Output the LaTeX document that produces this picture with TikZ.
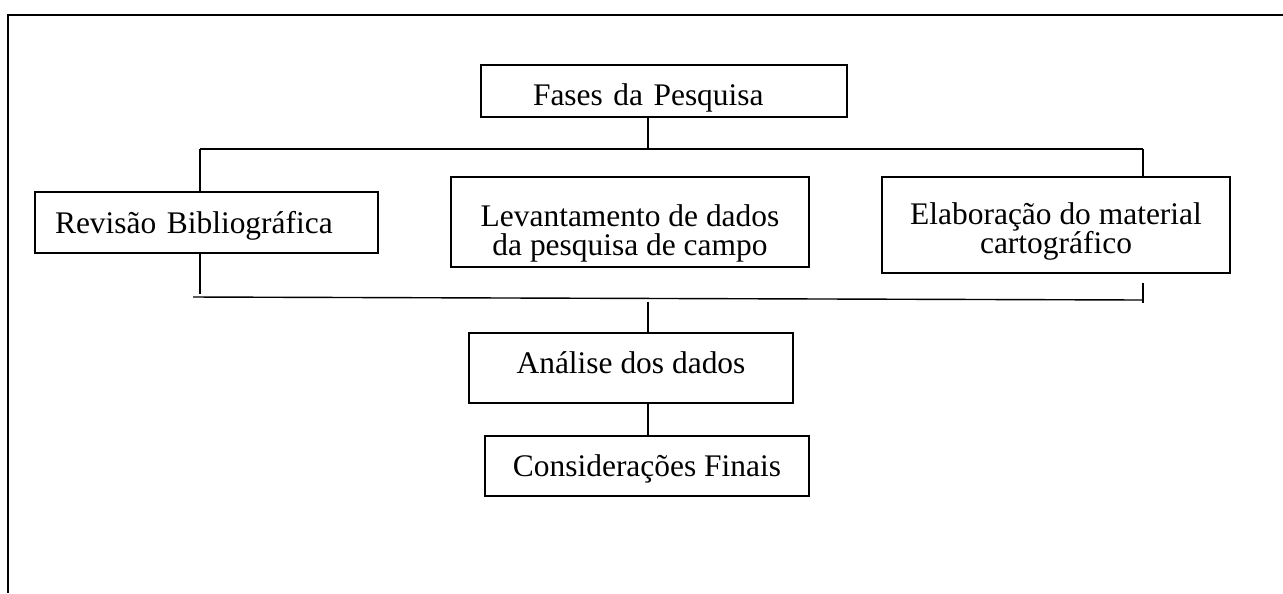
\documentclass[tikz,border=0pt]{standalone}
\usepackage{fontspec}
\setmainfont{Liberation Serif}
\usepackage{tikz}

% texto um pouco mais baixo dentro da caixa
\newcommand{\desce}[2]{\raisebox{-#1}[\height][\depth]{#2}}
\newcommand{\duaslinhas}[2]{\parbox{6.9cm}{\centering #1\\#2}}

\begin{document}
\begin{tikzpicture}[x=0.02cm, y=-0.02cm,
    caixa/.style={draw, line width=0.8pt, align=center, inner sep=0pt,
        font=\fontsize{17.9}{16.5}\selectfont},
    linha/.style={line width=0.8pt}]

\useasboundingbox (0,0) rectangle (1283,593);

% Moldura (so em cima e a esquerda)
\draw[line width=1.4pt] (1283,15) -- (8,15) -- (8,593);

% Caixas
\node[caixa, line width=1.4pt, minimum width=7.32cm, minimum height=1.04cm,
    text width=5.24cm, align=left] (fases) at (664,91) {\desce{3.7pt}{Fases da Pesquisa}};
\node[caixa, minimum width=6.86cm, minimum height=1.22cm,
    text width=6.06cm, align=left] (revisao) at (206.5,222.5) {\desce{1.7pt}{Revisão Bibliográfica}};
\node[caixa, minimum width=7.16cm, minimum height=1.8cm] (levant) at (630,222)
    {\desce{6.4pt}{\duaslinhas{Levantamento de dados}{da pesquisa de campo}}};
\node[caixa, minimum width=6.96cm, minimum height=1.92cm] (elab) at (1056,225)
    {\desce{3.5pt}{\duaslinhas{Elaboração do material}{cartográfico}}};
\node[caixa, minimum width=6.48cm, minimum height=1.4cm] (analise) at (631,368) {\desce{-2.8pt}{Análise dos dados}};
\node[caixa, minimum width=6.48cm, minimum height=1.2cm] (consid) at (647,466) {\desce{1.4pt}{Considerações Finais}};

% Ligacoes
\coordinate (topo) at (648,149);
\coordinate (tl) at (200,149);
\coordinate (tr) at (1143,149);
\coordinate (bl) at (193,297);
\coordinate (br) at (1143,300);
\coordinate (meio) at (648,302);

\draw[linha] (fases.south -| topo) -- (topo);
\draw[linha] (tl) -- (tr);
\draw[linha] (tl) -- (revisao.north -| tl);
\draw[linha] (tr) -- (elab.north -| tr);

\draw[linha] (bl) -- (br);
\draw[linha] (revisao.south -| tl) -- (200,294);
\draw[linha] (1143,283) -- (1143,303);

\draw[linha] (meio) -- (analise.north -| meio);
\draw[linha] (analise.south -| meio) -- (consid.north -| meio);

\end{tikzpicture}
\end{document}
